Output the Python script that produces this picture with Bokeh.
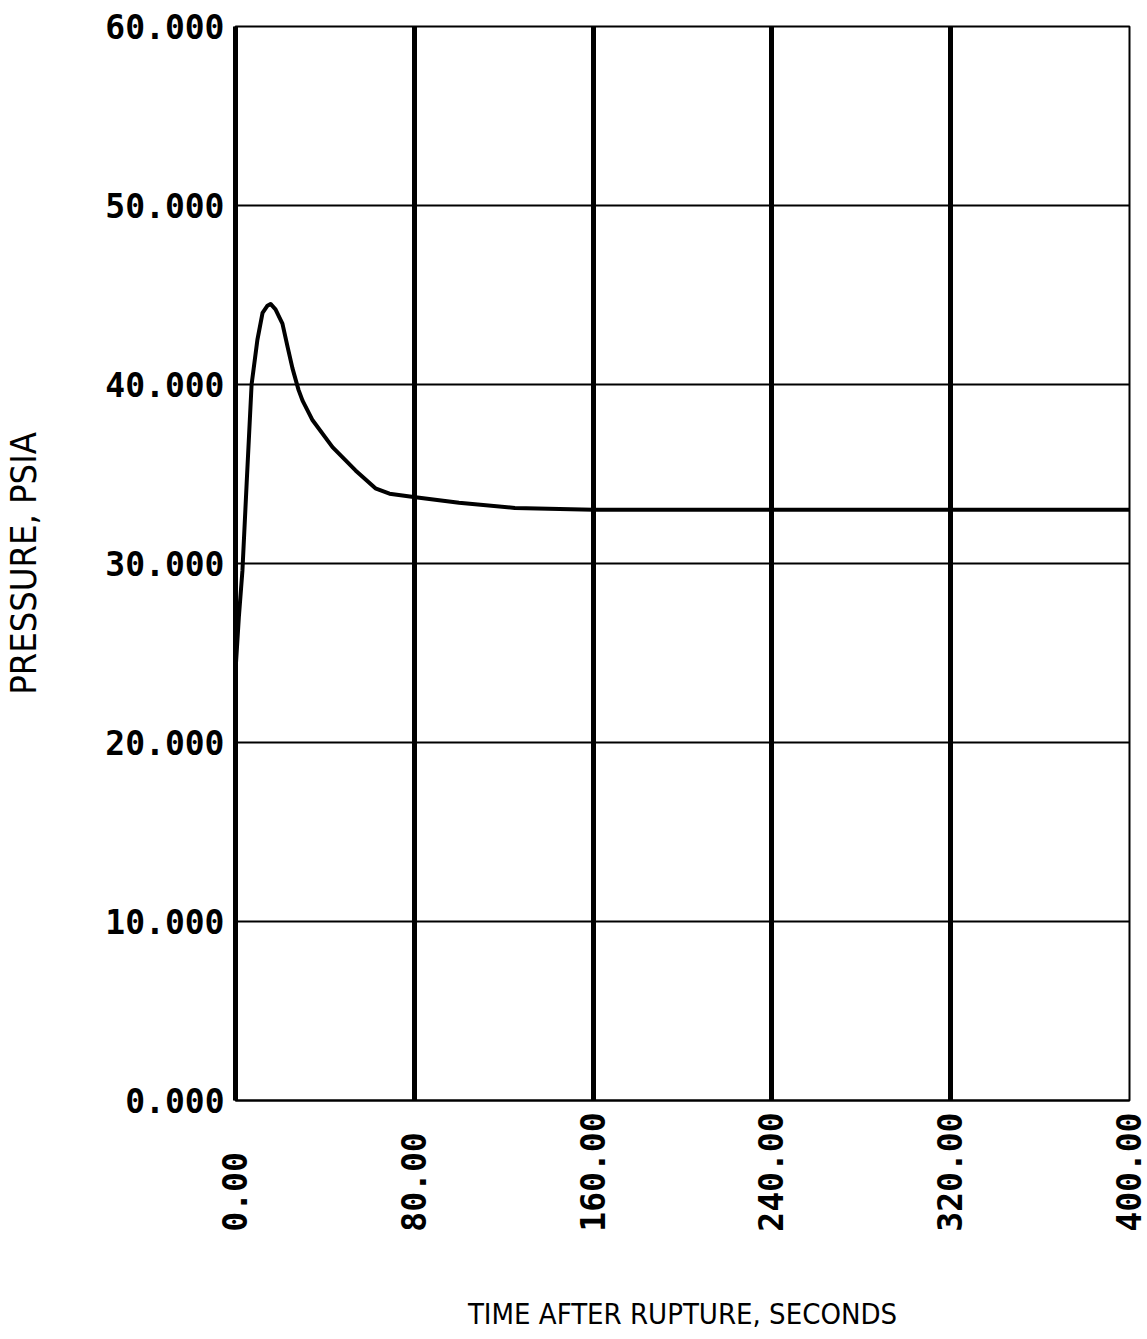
import math

from bokeh.plotting import figure
from bokeh.models import FixedTicker, Range1d
from bokeh.embed import file_html
from bokeh.resources import INLINE

# Containment pressure after the rupture
time_s = [0.0, 1.5, 3.1, 5.0, 7.2, 9.8, 12.1, 14.3, 15.7, 17.9, 21.0, 23.3,
          25.5, 28.2, 30.0, 34.5, 43.4, 53.7, 62.6, 68.9, 80.5, 100.0, 125.0,
          160.0, 200.0, 240.0, 320.0, 400.0]
pressure_psia = [24.0, 27.0, 29.6, 34.5, 40.0, 42.5, 44.0, 44.4, 44.5, 44.2,
                 43.4, 42.1, 40.9, 39.7, 39.1, 38.0, 36.5, 35.2, 34.2, 33.9,
                 33.7, 33.4, 33.1, 33.0, 33.0, 33.0, 33.0, 33.0]

x_ticks = [0, 80, 160, 240, 320, 400]
y_ticks = [0, 10, 20, 30, 40, 50, 60]

TICK_FONT = "DejaVu Sans Mono"
TITLE_FONT = "DejaVu Sans Condensed"

p = figure(
    frame_width=894, frame_height=1074,
    min_border_left=233, min_border_right=20,
    min_border_top=26, min_border_bottom=239,
    x_range=Range1d(0, 400), y_range=Range1d(0, 60),
    output_backend="svg", toolbar_location=None,
    background_fill_color="white", border_fill_color="white",
)

p.line(time_s, pressure_psia, line_color="black", line_width=4,
       line_join="round", line_cap="round")

# grid: heavy verticals, light horizontals
p.xaxis.ticker = FixedTicker(ticks=x_ticks)
p.yaxis.ticker = FixedTicker(ticks=y_ticks)
p.xgrid.grid_line_color = "black"
p.xgrid.grid_line_width = 5
p.xgrid.grid_line_alpha = 1.0
p.ygrid.grid_line_color = "black"
p.ygrid.grid_line_width = 2
p.ygrid.grid_line_alpha = 1.0

p.outline_line_color = "black"
p.outline_line_width = 2
p.outline_line_alpha = 1.0

# y axis
p.yaxis.axis_line_width = 5
p.yaxis.axis_line_color = "black"
p.yaxis.major_tick_line_color = None
p.yaxis.minor_tick_line_color = None
p.yaxis.major_label_overrides = {t: f"{t:.3f}" for t in y_ticks}
p.yaxis.major_label_text_font = TICK_FONT
p.yaxis.major_label_text_font_style = "bold"
p.yaxis.major_label_text_font_size = "33px"
p.yaxis.major_label_text_color = "black"
p.yaxis.major_label_standoff = 5
p.yaxis.axis_label = "PRESSURE, PSIA"
p.yaxis.axis_label_text_font = TITLE_FONT
p.yaxis.axis_label_text_font_style = "normal"
p.yaxis.axis_label_text_font_size = "36px"
p.yaxis.axis_label_text_color = "black"
p.yaxis.axis_label_standoff = 58

# x axis: labels read upward and all start from the same baseline
width = max(len(f"{t:.2f}") for t in x_ticks)
p.xaxis.axis_line_width = 2
p.xaxis.axis_line_color = "black"
p.xaxis.major_tick_line_color = None
p.xaxis.minor_tick_line_color = None
p.xaxis.major_label_overrides = {
    t: f"{t:.2f}" + "\u00a0" * (width - len(f"{t:.2f}")) for t in x_ticks
}
p.xaxis.major_label_orientation = math.pi / 2
p.xaxis.major_label_text_font = TICK_FONT
p.xaxis.major_label_text_font_style = "bold"
p.xaxis.major_label_text_font_size = "33px"
p.xaxis.major_label_text_color = "black"
p.xaxis.major_label_standoff = 6
p.xaxis.axis_label = "TIME AFTER RUPTURE, SECONDS"
p.xaxis.axis_label_text_font = TITLE_FONT
p.xaxis.axis_label_text_font_style = "normal"
p.xaxis.axis_label_text_font_size = "29px"
p.xaxis.axis_label_text_color = "black"
p.xaxis.axis_label_standoff = 62

open("out.html", "w").write(file_html(p, INLINE))
